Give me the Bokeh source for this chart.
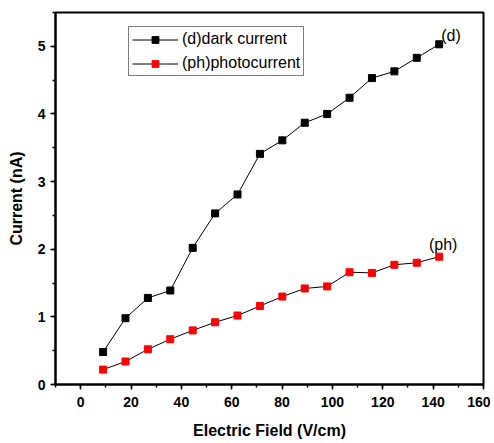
from bokeh.plotting import figure
from bokeh.models import Range1d, Legend, LegendItem, Label, FixedTicker
from bokeh.embed import file_html
from bokeh.resources import INLINE

# Data
field = [8.9, 17.8, 26.7, 35.6, 44.5, 53.4, 62.3, 71.2, 80.1, 89.0, 97.9, 106.8, 115.7, 124.6, 133.5, 142.4]
dark_current = [0.48, 0.98, 1.28, 1.39, 2.02, 2.53, 2.81, 3.41, 3.61, 3.87, 4.00, 4.24, 4.53, 4.63, 4.83, 5.03]
photo_current = [0.22, 0.34, 0.52, 0.67, 0.80, 0.92, 1.02, 1.16, 1.30, 1.42, 1.45, 1.66, 1.65, 1.77, 1.80, 1.89]
x_ticks = [0, 20, 40, 60, 80, 100, 120, 140, 160]
y_ticks = [0, 1, 2, 3, 4, 5]

FONT = "Liberation Sans"

p = figure(width=490, height=442, output_backend="svg", toolbar_location=None,
           x_range=Range1d(-10, 160), y_range=Range1d(0, 5.5),
           min_border_left=55, min_border_right=7, min_border_top=12, min_border_bottom=58)

p.xgrid.visible = False
p.ygrid.visible = False
p.outline_line_color = "black"
p.outline_line_width = 2
p.background_fill_color = "white"
p.border_fill_color = "white"

for ax in (p.xaxis[0], p.yaxis[0]):
    ax.axis_line_width = 2
    ax.axis_line_color = "black"
    ax.major_tick_in = 0
    ax.major_tick_out = 5
    ax.minor_tick_in = 0
    ax.minor_tick_out = 3
    ax.major_tick_line_width = 1.5
    ax.minor_tick_line_width = 1.5
    ax.major_label_text_font = FONT
    ax.major_label_text_font_style = "bold"
    ax.major_label_text_font_size = "14px"
    ax.major_label_text_color = "black"
    ax.axis_label_text_font = FONT
    ax.axis_label_text_font_style = "bold"
    ax.axis_label_text_font_size = "16px"
    ax.axis_label_text_color = "black"

p.xaxis.ticker = FixedTicker(ticks=x_ticks, minor_ticks=[-10 + 10 * i for i in range(18)])
p.yaxis.ticker = FixedTicker(ticks=y_ticks, minor_ticks=[0.5 * i for i in range(12)])
p.xaxis.axis_label = "Electric Field (V/cm)"
p.yaxis.axis_label = "Current (nA)"
p.xaxis.major_label_standoff = 7
p.xaxis.axis_label_standoff = 12
p.yaxis.axis_label_standoff = 10

l1 = p.line(field, dark_current, line_color="black", line_width=1)
s1 = p.scatter(field, dark_current, marker="square", size=7, fill_color="black", line_color="black")
l2 = p.line(field, photo_current, line_color="black", line_width=1)
s2 = p.scatter(field, photo_current, marker="square", size=7, fill_color="red", line_color="red")

legend = Legend(items=[LegendItem(label="(d)dark current", renderers=[l1, s1]),
                       LegendItem(label="(ph)photocurrent", renderers=[l2, s2])],
                location=(73, 308))
legend.label_text_font = FONT
legend.label_text_font_size = "16px"
legend.label_text_color = "black"
legend.border_line_color = "black"
legend.border_line_width = 1
legend.glyph_width = 46
legend.glyph_height = 17
legend.spacing = 6
legend.padding = 3
legend.margin = 0
legend.label_standoff = 4
legend.label_height = 17
p.add_layout(legend, "center")

p.add_layout(Label(x=field[-1], y=dark_current[-1], text="(d)", x_offset=2, y_offset=9,
                   text_baseline="middle", text_align="left",
                   text_font=FONT, text_font_size="16px", text_color="black"))
p.add_layout(Label(x=field[-1], y=photo_current[-1], text="(ph)", x_offset=4, y_offset=12,
                   text_baseline="middle", text_align="center",
                   text_font=FONT, text_font_size="16px", text_color="black"))

open("out.html", "w").write(file_html(p, INLINE))
